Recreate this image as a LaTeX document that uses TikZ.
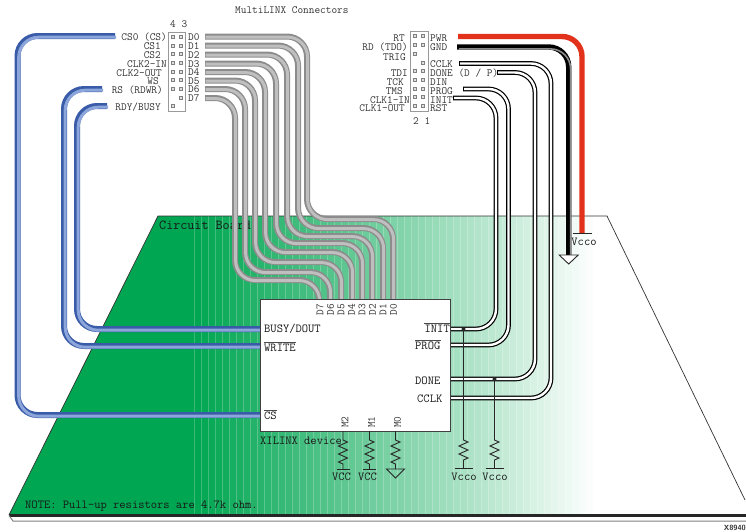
\documentclass[tikz,border=0pt]{standalone}
\usetikzlibrary{decorations.pathmorphing}
\definecolor{boardgreen}{RGB}{0,166,81}
\definecolor{tubeblue}{RGB}{58,92,168}
\definecolor{tubelight}{RGB}{140,166,220}
\definecolor{tubered}{RGB}{226,50,28}
\tikzset{
    txtbase/.style={inner sep=0, text=black!80, font=\ttfamily\fontsize{11}{11}\selectfont, text height=6.5, text depth=0},
    boardlbl/.style={txtbase, text=black!90, font=\ttfamily\fontsize{12.2}{12}\selectfont},
    pinsq/.style={draw=gray, fill=black!12, line width=0.5, minimum size=2.6, inner sep=0},
    hdrbox/.style={draw=black!40, fill=white, line width=0.9, inner sep=0},
    chipbox/.style={draw=black!75, fill=white, line width=1, inner sep=0},
    graytube/.style={draw=black!45, line width=6, rounded corners=20, postaction={draw=black!25, line width=3, transform canvas={shift={(0.6pt,-0.6pt)}}}},
    bluetube/.style={draw=tubeblue, line width=6, rounded corners=20, postaction={draw=tubelight, line width=3, transform canvas={shift={(1.2pt,-1.2pt)}}}},
    blacktube/.style={draw=black, line width=5.4, rounded corners=20, postaction={draw=black!45, line width=1.6, transform canvas={shift={(1.9pt,-1.9pt)}}}},
    redtube/.style={draw=tubered, line width=5.4, rounded corners=20},
    whitewire/.style={draw=black, line width=4.8, rounded corners=20, postaction={draw=white, line width=2.4, shorten <=1}},
    thinwire/.style={draw=black!85, line width=0.9},
    resistor/.style={thinwire, decorate, decoration={zigzag, amplitude=4.5, segment length=8, pre length=9, post length=5}},
}
\begin{document}
\begin{tikzpicture}[x=1pt, y=-1pt]
    \useasboundingbox (0,0) rectangle (746,531);
    % board
    \begin{scope}
        \clip (158,216) -- (607,216) -- (753,515) -- (9,515) -- cycle;
        \fill[boardgreen] (0,216) rectangle (195,515);
        \foreach \i in {0,1,...,56} {
            \pgfmathsetmacro{\mixval}{100-\i*100/57}
            \fill[boardgreen!\mixval] (194+\i*7,216) rectangle (194+\i*7+7.4,515);
            \draw[white, opacity=0.22, line width=0.6] (194+\i*7,216) -- (194+\i*7,515);
        }
    \end{scope}
    \draw[draw=black!80, line width=0.7] (9,515) -- (158,216) -- (607,216) -- (745,500);
    \draw[black!85, line width=2.4] (9,515.5) -- (746,515.5);
    \draw[black!50, line width=1] (9,515.5) -- (13,521) -- (746,521);
    \node[boardlbl, anchor=west, font=\ttfamily\fontsize{13.7}{13}\selectfont] (lblboard) at (159,226) {Circuit Board};
    \node[boardlbl, anchor=west] (lblnote) at (25,505) {NOTE: Pull-up resistors are 4.7k ohm.};
    \node[inner sep=0, anchor=south east, font=\sffamily\bfseries\fontsize{7.5}{7}\selectfont, text=black!80] (lblcode) at (746,531) {X8940};

    % connectors
    \node[txtbase, anchor=west] (lbltitle) at (235,10) {MultiLINX Connectors};
    \node[hdrbox, minimum width=17, minimum height=79] (connA) at (176.5,71.5) {};
    \node[hdrbox, minimum width=18, minimum height=80] (connB) at (419,71) {};
    \node[txtbase, anchor=west] (lbl43) at (170,24) {4 3};
    \node[txtbase, anchor=west] (lbl21) at (413,121) {2 1};
    \foreach \n/\y in {a/36.5,b/45.5,c/54,d/63,e/71.5,f/80,g/88.5,h/105.5} {
        \node[pinsq] (pinA\n) at (172.5,\y) {};
    }
    \foreach \n/\y in {a/36.5,b/45.5,c/54,d/63,e/71.5,f/80,g/88.5,h/97.5} {
        \node[pinsq] (pinC\n) at (181,\y) {};
    }
    \foreach \n/\y in {a/36,b/45,c/54,e/71,f/80,g/88.5,h/97,i/106} {
        \node[pinsq] (pinE\n) at (415,\y) {};
    }
    \foreach \n/\y in {a/36,b/45,d/63,e/71,f/80,g/88.5,h/97,i/106} {
        \node[pinsq] (pinF\n) at (423,\y) {};
    }
    \foreach \n/\x/\y/\t in {csz/167/37/CS0 (CS), csa/161/46/CS1, csb/161/55/CS2, clkin/167/64/CLK2-IN, clkout/162/73/CLK2-OUT,
                             ws/159/81/WS, rs/163/90/RS (RDWR), rdy/161/107/{RDY/BUSY},
                             rt/405/38/RT, rd/408/47/RD (TDO), trig/406/57/TRIG, tdi/408/73/TDI, tck/404/82/TCK,
                             tms/403/91/TMS, clkain/410/100/CLK1-IN, clkaout/405/108/CLK1-OUT} {
        \node[txtbase, anchor=east] (lbl\n) at (\x,\y) {\t};
    }
    \foreach \n/\y/\t in {pwr/38/PWR, gnd/47/GND, cclk/64/CCLK, done/73/{DONE (D / P)}, din/82/DIN, prog/91/PROG, init/100/INIT, rst/108/RST} {
        \node[txtbase, anchor=west] (lbl\n) at (430,\y) {\t};
    }

    % data wires
    \foreach \n/\ya/\xv/\yh/\xc in {7/98/235/280/319, 6/89/245/272/330, 5/80.5/255/262/341, 4/72/265/252/352,
                                    3/63.5/276/243/362, 2/54.5/287/236/372, 1/45.5/298/228/383, 0/36.5/307/219/393} {
        \node[txtbase, anchor=west] (lblD\n) at (188,\ya+0.5) {D\n};
        \coordinate (startD\n) at (205,\ya);
        \coordinate (endD\n) at (\xc,300);
        \draw[graytube] (startD\n) -| (\xv,\yh) -| (endD\n);
    }

    % control wires
    \coordinate (startcs) at (115,36);
    \coordinate (startrs) at (102,89);
    \coordinate (startrdy) at (107,106);
    \coordinate (endcs) at (261,415);
    \coordinate (endrs) at (261,346);
    \coordinate (endrdy) at (261,329);
    \draw[bluetube] (startcs) -| (17.5,415) -- (endcs);
    \draw[bluetube] (startrs) -| (64,346) -- (endrs);
    \draw[bluetube] (startrdy) -| (77,329) -- (endrdy);

    % power
    \coordinate (startpwr) at (458,36.5);
    \coordinate (startgnd) at (457,47);
    \coordinate (vccpwr) at (582,233.5);
    \coordinate (gndpwr) at (568.7,255);
    \draw[redtube] (startpwr) -| (vccpwr);
    \draw[blacktube] (startgnd) -| (gndpwr);
    \draw[thinwire] ([xshift=-9.5]vccpwr) -- ([xshift=9.5]vccpwr);
    \draw[thinwire, fill=white] ([xshift=-9.5]gndpwr) -- ([xshift=9.5]gndpwr) -- ([yshift=-9]gndpwr) -- cycle;
    \node[boardlbl, anchor=center] (lblvccpwr) at (584,242) {Vcco};

    % config wires
    \coordinate (startcclk) at (459,63.5);
    \coordinate (startdone) at (497,72.5);
    \coordinate (startprog) at (463,89);
    \coordinate (startinit) at (453,98);
    \coordinate (endcclk) at (449,398);
    \coordinate (enddone) at (449,379);
    \coordinate (endprog) at (449,345);
    \coordinate (endinit) at (449,329);
    \draw[whitewire] (startcclk) -| (551,398) -- (endcclk);
    \draw[whitewire] (startdone) -| (535,379) -- (enddone);
    \draw[whitewire] (startprog) -| (508.5,345) -- (endprog);
    \draw[whitewire] (startinit) -| (496,329) -- (endinit);

    % device
    \node[chipbox, minimum width=190, minimum height=132] (chip) at (355,365) {};
    \foreach \n/\x in {7/320, 6/330.5, 5/341, 4/351.5, 3/362, 2/372.5, 1/383, 0/393.5} {
        \node[txtbase, rotate=90, anchor=east] (chipD\n) at (\x,304) {D\n};
    }
    \node[boardlbl, anchor=west] (lblbusy) at (264,329) {BUSY/DOUT};
    \node[boardlbl, anchor=west] (lblwrite) at (264,348) {WRITE};
    \node[boardlbl, anchor=west] (lblcs) at (264,416) {CS};
    \node[boardlbl, anchor=east] (lblpinit) at (450,329) {INIT};
    \node[boardlbl, anchor=west] (lblpprog) at (415,346) {PROG};
    \node[boardlbl, anchor=west] (lblpdone) at (415,381) {DONE};
    \node[boardlbl, anchor=west] (lblpcclk) at (417,399) {CCLK};
    \draw[thinwire, draw=black!70] ([yshift=2.5]lblwrite.north west) -- ([yshift=2.5]lblwrite.north east);
    \draw[thinwire, draw=black!70] ([yshift=2.5]lblcs.north west) -- ([yshift=2.5]lblcs.north east);
    \draw[thinwire, draw=black!70] ([yshift=2.5]lblpinit.north west) -- ([yshift=2.5]lblpinit.north east);
    \draw[thinwire, draw=black!70] ([yshift=2.5]lblpprog.north west) -- ([yshift=2.5]lblpprog.north east);
    \node[boardlbl, anchor=west] (lbldevice) at (260,441) {XILINX device};

    % mode pins
    \foreach \n/\x in {M2/343, M1/369.5, M0/395.5} {
        \node[txtbase, rotate=90, anchor=west] (chip\n) at (\x+2,428) {\n};
        \coordinate (pin\n) at (\x,431);
        \coordinate (bar\n) at (\x,469);
        \draw[resistor] (pin\n) -- (bar\n);
    }
    \draw[thinwire] ([xshift=-6.5]barM2) -- ([xshift=6.5]barM2);
    \draw[thinwire] ([xshift=-6.5]barM1) -- ([xshift=6.5]barM1);
    \draw[thinwire] ([xshift=-9]barM0) -- ([xshift=9]barM0) -- ([yshift=-9]barM0) -- cycle;
    \node[boardlbl] (lblvcca) at (341.5,477) {VCC};
    \node[boardlbl] (lblvccb) at (367.5,477) {VCC};

    % pull-ups
    \coordinate (dotinit) at (463.5,329);
    \coordinate (dotdone) at (494.5,379);
    \coordinate (barinit) at (463.5,468);
    \coordinate (bardone) at (494.5,468);
    \fill[black!85] (dotinit) circle (2);
    \fill[black!85] (dotdone) circle (2);
    \draw[thinwire, decorate, decoration={zigzag, amplitude=4.5, segment length=8, pre length=111, post length=5}] (dotinit) -- (barinit);
    \draw[thinwire, decorate, decoration={zigzag, amplitude=4.5, segment length=8, pre length=61, post length=5}] (dotdone) -- (bardone);
    \draw[thinwire] ([xshift=-9]barinit) -- ([xshift=9]barinit);
    \draw[thinwire] ([xshift=-9]bardone) -- ([xshift=9]bardone);
    \node[boardlbl] (lblvcoa) at (464,477) {Vcco};
    \node[boardlbl] (lblvcob) at (495,477) {Vcco};
\end{tikzpicture}
\end{document}
